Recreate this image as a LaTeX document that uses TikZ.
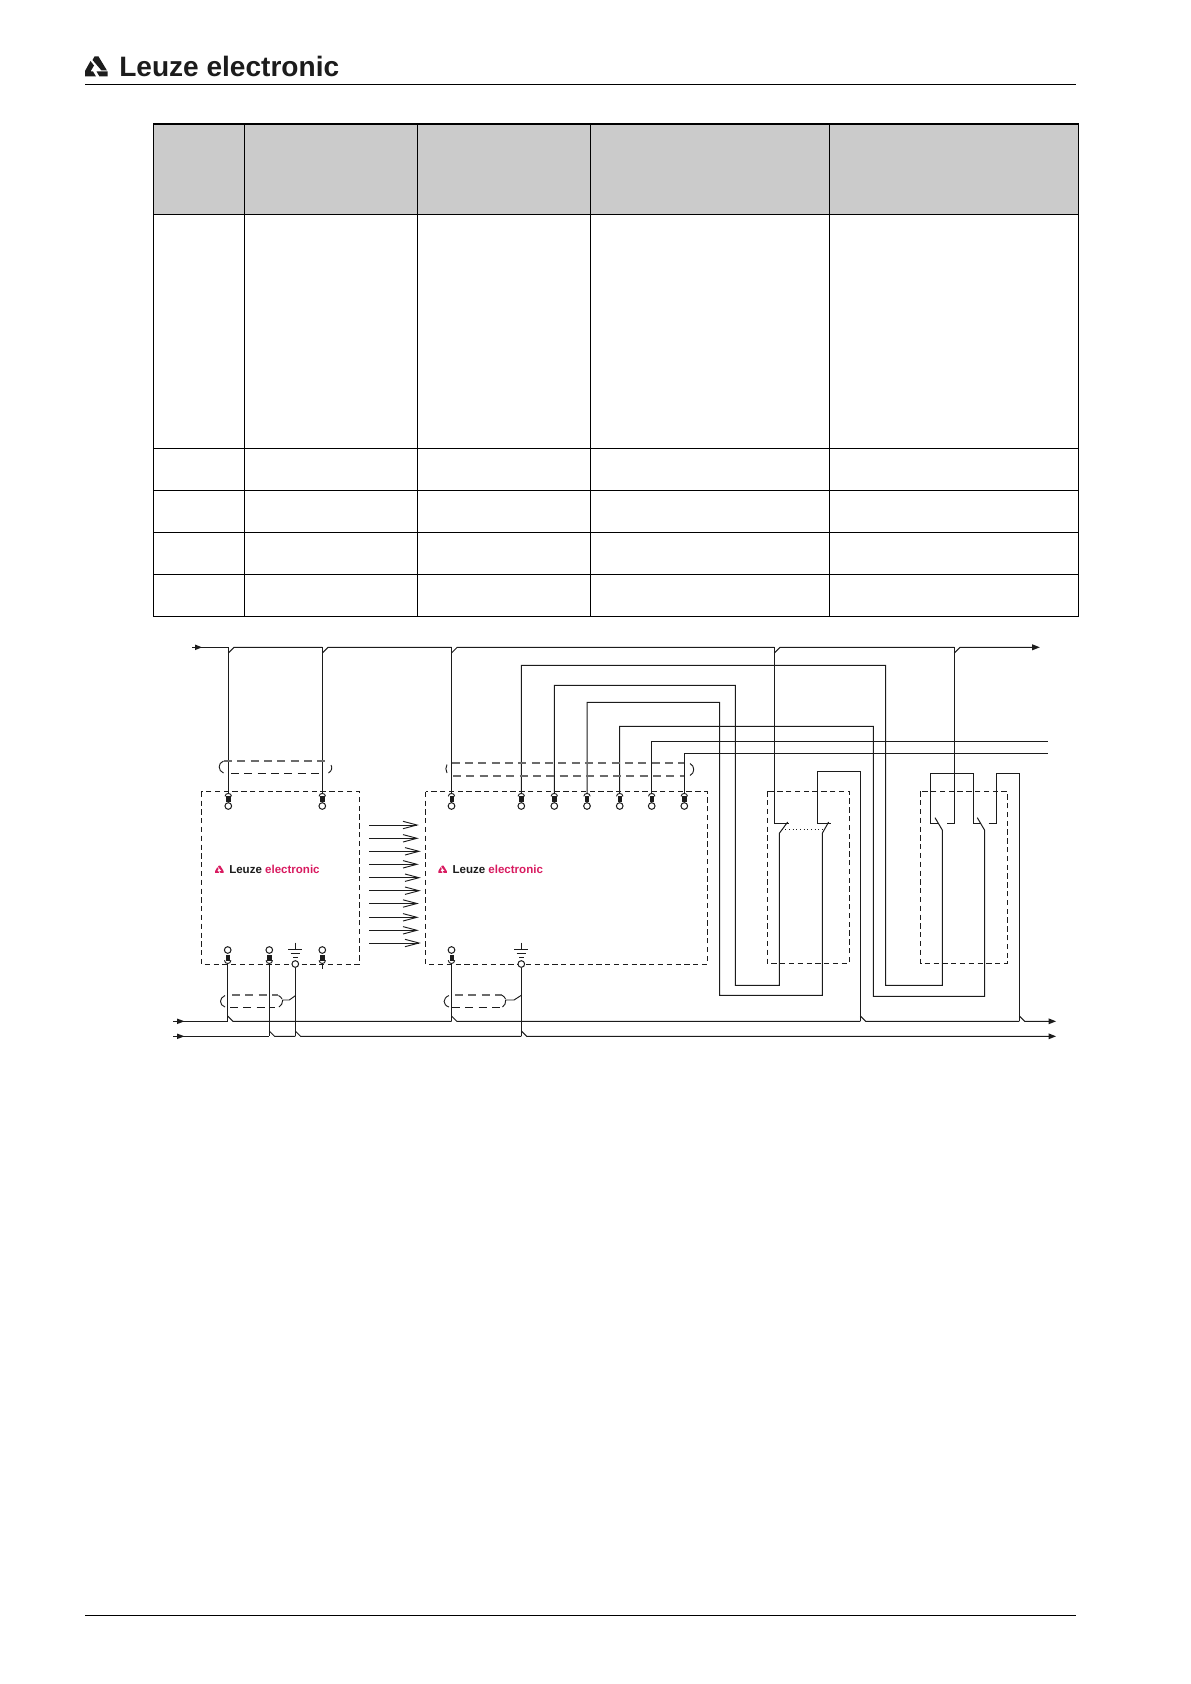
\documentclass[tikz,border=0pt]{standalone}
\usepackage{fontspec}
\setmainfont{Liberation Sans}
\definecolor{ink}{HTML}{1C1C1C}
\definecolor{headgrey}{HTML}{CBCBCB}
\definecolor{lzpink}{HTML}{D81B60}
\tikzset{
  wire/.style={draw=ink,line width=0.75pt,line join=miter},
  thinwire/.style={draw=ink,line width=0.7pt},
  rule/.style={draw=black,line width=0.85pt},
  tabline/.style={draw=black,line width=0.8pt},
  boxdash/.style={draw=ink,line width=0.75pt,dash pattern=on 4pt off 2.6pt},
  brkdash/.style={draw=ink!65,line width=0.85pt,dash pattern=on 6pt off 4pt},
  brkdark/.style={draw=ink,line width=0.7pt,dash pattern=on 6pt off 4pt},
  tcirc/.style={circle,draw=ink,line width=0.75pt,fill=white,minimum size=5pt,inner sep=0pt},
  tbar/.style={rectangle,fill=ink,minimum width=3.2pt,minimum height=5pt,inner sep=0pt},
  busarrow/.style={fill=ink,draw=none},
  lzlogo/.pic={
    \fill[pic actions,line join=round] (-1.5,-12) -- (2.5,-12) -- (11,2) -- (5.5,2) -- (-3.5,-8.5) -- cycle;
    \fill[pic actions,line join=round] (-5.5,-7.5) -- (-11,2.5) -- (-11,8) -- (0,8) -- (-3,3) -- (-5.5,3) -- (-2,-3) -- cycle;
    \fill[pic actions,line join=round] (0.5,3) -- (11.5,3) -- (11.5,8) -- (3.5,8) -- cycle;
  }
}
\begin{document}
\begin{tikzpicture}[x=0.75pt,y=-0.75pt]
\useasboundingbox (0,0) rectangle (1190,1684);
% page furniture
\pic[fill=ink] at (96,68.5) {lzlogo};
\node[anchor=base west,inner sep=0pt,text=ink,font=\bfseries\fontsize{21.05pt}{24pt}\selectfont] (brand) at (119,76.5) {Leuze electronic};
\coordinate (ruleTL) at (85,84.3); \coordinate (ruleTR) at (1076,84.3);
\coordinate (ruleBL) at (85,1615.5); \coordinate (ruleBR) at (1076,1615.5);
\draw[rule] (ruleTL) -- (ruleTR);
\draw[rule] (ruleBL) -- (ruleBR);
% table
\fill[headgrey] (153.6,124) rectangle (1078.3,214.5);
\draw[tabline] (153.6,124) rectangle (1078.3,616.5);
\foreach \cx in {244.3,417.3,590.3,829.3} \draw[tabline] (\cx,124) -- (\cx,616.5);
\foreach \ry in {214.5,448.5,490.5,532.3,574.3} \draw[tabline] (153.6,\ry) -- (1078.3,\ry);
% device boxes
\draw[boxdash] (201.3,791.7) rectangle (359.3,964.3);
\draw[boxdash] (425.7,791.7) rectangle (707.3,964.3);
\draw[boxdash] (767.3,791.3) rectangle (849.3,963.3);
\draw[boxdash] (920.7,791.3) rectangle (1007.3,963.3);
% small logos
\pic[fill=lzpink,scale=0.37] at (219.3,870) {lzlogo};
\node[anchor=base west,inner sep=0pt,font=\bfseries\fontsize{8.65pt}{10pt}\selectfont] (brandA) at (229,873.3) {\textcolor{ink}{Leuze} \textcolor{lzpink}{electronic}};
\pic[fill=lzpink,scale=0.37] at (442.5,870) {lzlogo};
\node[anchor=base west,inner sep=0pt,font=\bfseries\fontsize{8.65pt}{10pt}\selectfont] (brandB) at (452.3,873.3) {\textcolor{ink}{Leuze} \textcolor{lzpink}{electronic}};
% top terminals
\foreach \n/\x in {a/228.3,b/322.3,c/451.5,d/521.3,e/554.3,f/587,g/619.7,h/651.7,i/684.3}{
  \node[tcirc] (top\n) at (\x,806) {};
  \node[tbar] (tbar\n) at (\x+0.3,799) {};
  \draw[thinwire] (\x-3.2,796.3) .. controls (\x-3.2,792.5) and (\x+3.2,792.5) .. (\x+3.2,796.3);
  \coordinate (tin\n) at (\x,793.5);
}
% bottom terminals
\foreach \n/\x in {a/227.7,b/269.3,c/322.3,d/451.5}{
  \node[tcirc] (bot\n) at (\x,950) {};
  \node[tbar] (bbar\n) at (\x+0.3,958) {};
  \draw[thinwire] (\x-3.2,960.3) .. controls (\x-3.2,964.5) and (\x+3.2,964.5) .. (\x+3.2,960.3);
  \coordinate (bin\n) at (\x,963.5);
}
% earth terminals
\foreach \n/\x in {p/295.3,q/521.3}{
  \node[tcirc] (earth\n) at (\x,964) {};
  \draw[thinwire] (\x,942.7) -- (\x,949.3);
  \draw[thinwire] (\x-7,949.3) -- (\x+7,949.3);
  \draw[thinwire] (\x-4.7,953.3) -- (\x+4.7,953.3);
  \draw[thinwire] (\x-2.3,957.3) -- (\x+2.3,957.3);
}
% top bus
\coordinate (busS) at (192,647.3);
\coordinate (busE) at (1039.3,647.3);
\draw[wire] (busS) -- (228.3,647.3);
\fill[busarrow] (195,644.5) -- (202,647.3) -- (195,650.1) -- cycle;
\foreach \a/\b in {228.3/322.3,322.3/451.5,451.5/774.3,774.3/954.3,954.3/1035}
  \draw[wire] (\a,653) -- (\a+5.7,647.3) -- (\b,647.3);
\fill[busarrow] (1032,644.2) -- (1039.8,647.3) -- (1032,650.4) -- cycle;
\draw[wire] (228.3,647.3) -- (tina);
\draw[wire] (322.3,647.3) -- (tinb);
\draw[wire] (451.5,647.3) -- (tinc);
% bottom buses
\draw[wire] (173.3,1021.3) -- (227.7,1021.3);
\draw[wire] (173.3,1036.3) -- (269.3,1036.3);
\fill[busarrow] (177,1018.5) -- (184.5,1021.3) -- (177,1024.1) -- cycle;
\fill[busarrow] (177,1033.5) -- (184.5,1036.3) -- (177,1039.1) -- cycle;
\foreach \a/\b in {227.7/451.5,451.5/860.3,860.3/1019.3,1019.3/1052}
  \draw[wire] (\a,1016) -- (\a+5.3,1021.3) -- (\b,1021.3);
\foreach \a/\b in {269.3/295.3,295.3/521.3,521.3/1052}
  \draw[wire] (\a,1031) -- (\a+5.3,1036.3) -- (\b,1036.3);
\fill[busarrow] (1048.5,1018.3) -- (1056,1021.3) -- (1048.5,1024.3) -- cycle;
\fill[busarrow] (1048.5,1033.3) -- (1056,1036.3) -- (1048.5,1039.3) -- cycle;
\draw[wire] (bina) -- (227.7,1021.3);
\draw[wire] (binb) -- (269.3,1036.3);
\draw[wire] (earthp) -- (295.3,1036.3);
\draw[wire] (bind) -- (451.5,1021.3);
\draw[wire] (earthq) -- (521.3,1036.3);
\draw[wire] (binc) -- (322.3,969.3);
% signal wires
\draw[wire] (tind) -- (521.3,665.3) -- (885.5,665.3) -- (885.5,985.3) -- (942.3,985.3) -- (942.3,830) -- (935,817.7);
\draw[wire] (tine) -- (554.3,685.3) -- (735.3,685.3) -- (735.3,985.3) -- (779.3,985.3) -- (779.3,833.3) -- (787.7,822);
\draw[wire] (tinf) -- (587,702.3) -- (719.5,702.3) -- (719.5,995.3) -- (822.3,995.3) -- (822.3,833.3) -- (828.6,822);
\draw[wire] (ting) -- (619.7,726.3) -- (873.3,726.3) -- (873.3,996.3) -- (984.5,996.3) -- (984.5,830) -- (977.3,817.7);
\coordinate (osdA) at (1048,741.5);
\coordinate (osdB) at (1048,753.5);
\draw[wire] (tinh) -- (651.7,741.5) -- (osdA);
\draw[wire] (tini) -- (684.3,753.5) -- (osdB);
% contact groups
\draw[wire] (774.3,647.3) -- (774.3,823.3) -- (788.5,823.3);
\draw[wire] (830.5,823.3) -- (817.3,823.3) -- (817.3,771.3) -- (860.5,771.3) -- (860.5,1021.3);
\draw[wire,dotted,line width=0.7pt] (781.7,829.3) -- (825,829.3);
\draw[wire] (954.3,647.3) -- (954.3,823.3) -- (946.7,823.3);
\draw[wire] (938.3,823.3) -- (930.7,823.3) -- (930.7,773.3) -- (973.3,773.3) -- (973.3,823.3) -- (980.7,823.3);
\draw[wire] (988.7,823.3) -- (996.7,823.3) -- (996.7,773.3) -- (1019.3,773.3) -- (1019.3,1021.3);
% data link arrows
\foreach \ay/\tx in {825/417,838.3/417,851.3/419,864.3/417,877.7/419,890.7/419,903.5/417,917.3/417,930.3/417,943/419}{
  \draw[thinwire] (369,\ay) -- (\tx,\ay);
  \draw[thinwire] (\tx-14,\ay-3.7) -- (\tx,\ay) -- (\tx-14,\ay+3.7);
}
% shield brackets
\draw[brkdash] (224,761) -- (328,761);
\draw[brkdark] (231,773.5) -- (322,773.5);
\draw[thinwire] (223.5,761) .. controls (217.5,763) and (218,771) .. (223.5,773);
\draw[thinwire] (328.5,773) .. controls (332,770.5) and (332.5,768) .. (331,765);
\draw[brkdash] (451.5,763) -- (684,763);
\draw[brkdash] (453,776) -- (684,776);
\draw[thinwire] (447,764.5) .. controls (445.5,767) and (445.5,770.5) .. (447,773);
\draw[thinwire] (690,763.5) .. controls (695,766) and (695,773) .. (690,775.5);
\draw[brkdash] (232,995) -- (278,995);
\draw[brkdark] (230,1007.5) -- (275,1007.5);
\draw[thinwire] (225,995.5) .. controls (219,998) and (219,1005) .. (225,1007);
\draw[thinwire] (278.5,995.5) .. controls (280.5,996.5) and (281.5,998) .. (282,999);
\draw[thinwire] (279,1007) .. controls (281.5,1005.5) and (282.7,1003) .. (282.7,1000) -- (289.3,1000) -- (295.3,995.7);
\draw[brkdash] (455,995) -- (502,995);
\draw[brkdark] (452,1007.5) -- (500,1007.5);
\draw[thinwire] (449,995.5) .. controls (442.5,998) and (442.5,1005) .. (449,1007);
\draw[thinwire] (502,995.2) .. controls (504,996) and (505,998) .. (505.5,999);
\draw[thinwire] (502.5,1007) .. controls (505,1005.5) and (505.7,1003) .. (505.7,1000) -- (514,1000) -- (521.3,995.3);
\end{tikzpicture}
\end{document}
